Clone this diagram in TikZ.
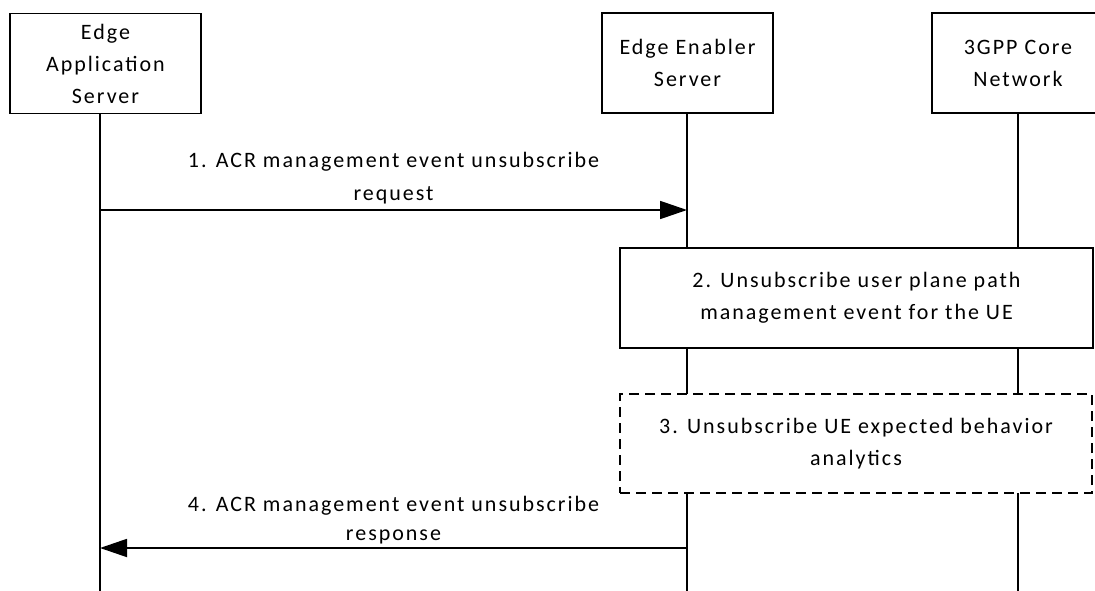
\documentclass[tikz,border=0pt]{standalone}
\usepackage{fontspec}
\setmainfont{Carlito}[LetterSpace=9]
\usetikzlibrary{arrows.meta}
\begin{document}
\begin{tikzpicture}[x=1pt,y=-1pt,
  every node/.style={font=\fontsize{22}{32}\selectfont, align=center, inner sep=0pt},
  box/.style={draw, line width=1.8pt, fill=white},
  dbox/.style={draw, line width=1.8pt, dash pattern=on 10pt off 6pt, fill=white},
  life/.style={line width=1.8pt},
  msg/.style={line width=1.8pt, -{Triangle[length=27pt,width=18pt]}},
  lbla/.style={font=\fontsize{22}{33}\selectfont},
  lblb/.style={font=\fontsize{22}{29}\selectfont}]
\useasboundingbox (0,0) rectangle (1095,591);
\begin{scope}
\clip (0,0) rectangle (1095,591);
% lifelines
\coordinate (easT) at (100,114); \coordinate (easB) at (100,591);
\coordinate (eesT) at (687,113); \coordinate (eesB) at (687,591);
\coordinate (cnT) at (1018,113); \coordinate (cnB) at (1018,591);
\draw[life] (easT) -- (easB);
\draw[life] (eesT) -- (eesB);
\draw[life] (cnT) -- (cnB);
% headers
\node[box, minimum width=191pt, minimum height=100pt] (eas) at (105.5,63.5) {Edge\\Application\\Server};
\node[box, minimum width=171pt, minimum height=100pt] (ees) at (687.5,63) {Edge Enabler\\Server};
\node[box, minimum width=172pt, minimum height=100pt] (cn) at (1018,63) {3GPP Core\\Network};
% step 1
\coordinate (m1s) at (100,210); \coordinate (m1e) at (687,210);
\draw[msg] (m1s) -- (m1e) node[midway, above=5pt, lbla] (l1) {1. ACR management event unsubscribe\\request};
% step 2
\node[box, minimum width=473pt, minimum height=100pt] (s2) at (856.5,298) {2. Unsubscribe user plane path\\management event for the UE};
% step 3
\node[dbox, minimum width=472pt, minimum height=99pt] (s3) at (856,443.5) {3. Unsubscribe UE expected behavior\\analytics};
% step 4
\coordinate (m4s) at (687,548); \coordinate (m4e) at (100,548);
\draw[msg] (m4s) -- (m4e) node[midway, above=3pt, lblb] (l4) {4. ACR management event unsubscribe\\response};
\end{scope}
\end{tikzpicture}
\end{document}
